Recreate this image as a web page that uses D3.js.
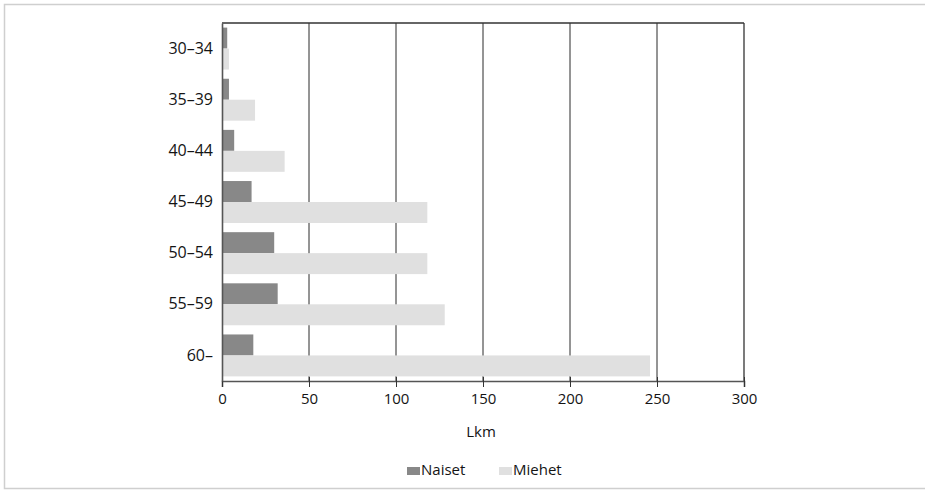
<!DOCTYPE html>
<html><head><meta charset="utf-8">
<script src="https://cdn.jsdelivr.net/npm/d3@7"></script>
<style>body{margin:0;background:#fff;} svg{display:block;} text{font-family:"Open Sans",sans-serif;fill:#141414;}</style>
</head><body>
<svg id="c" width="925" height="492"></svg>
<script>
const categories = ["30–34","35–39","40–44","45–49","50–54","55–59","60–"];
const naiset = [3, 4, 7, 17, 30, 32, 18];
const miehet = [4, 19, 36, 118, 118, 128, 246];
const seriesNames = ["Naiset","Miehet"];
const xTicks = [0, 50, 100, 150, 200, 250, 300];
const xTitle = "Lkm";

const svg = d3.select("#c");
const colors = {Naiset:"#888888", Miehet:"#e0e0e0"};
// outer frame
svg.append("rect").attr("x",4.5).attr("y",4.5).attr("width",930).attr("height",484)
  .attr("fill","none").attr("stroke","#cfcfcf").attr("stroke-width",1.5);

const L=222, R=744, T=23, B=381;
const x = d3.scaleLinear().domain([0,300]).range([L,R]);
const y = d3.scaleBand().domain(categories).range([T,B]).paddingInner(0.18).paddingOuter(0.09);
const sub = d3.scaleBand().domain(seriesNames).range([0,y.bandwidth()]);

// grid
svg.append("g").selectAll("line").data(xTicks.filter(d=>d>0&&d<300)).join("line")
  .attr("x1",d=>x(d)).attr("x2",d=>x(d)).attr("y1",T).attr("y2",B)
  .attr("stroke","#2a2a2a").attr("stroke-width",1);

const rows = categories.map((c,i)=>({c, Naiset:naiset[i], Miehet:miehet[i]}));
const g = svg.append("g");
seriesNames.forEach(s=>{
  g.selectAll("rect."+s).data(rows).join("rect").attr("class",s)
    .attr("x",x(0)).attr("y",d=>y(d.c)+sub(s)).attr("width",d=>x(d[s])-x(0))
    .attr("height",sub.bandwidth()).attr("fill",colors[s]);
});

// frame top/right
svg.append("line").attr("x1",L).attr("x2",R).attr("y1",T).attr("y2",T).attr("stroke","#333").attr("stroke-width",1.3);
svg.append("line").attr("x1",R).attr("x2",R).attr("y1",T).attr("y2",B).attr("stroke","#333").attr("stroke-width",1.3);

// x axis
const xa = svg.append("g").attr("transform",`translate(0,${B})`)
  .call(d3.axisBottom(x).tickValues(xTicks).tickSize(6).tickPadding(6));
xa.select(".domain").attr("stroke","#555").attr("stroke-width",1.6);
xa.selectAll(".tick line").attr("stroke","#333").attr("y1",-4);
xa.selectAll(".tick text").style("font-size","15px").style("font-family","'Open Sans',sans-serif").attr("fill","#141414");

// y axis
const ya = svg.append("g").attr("transform",`translate(${L},0)`)
  .call(d3.axisLeft(y).tickSize(0).tickPadding(9));
ya.select(".domain").attr("stroke","#555").attr("stroke-width",1.6);
ya.selectAll(".tick text").style("font-size","16px").style("font-family","'Open Sans',sans-serif").attr("fill","#141414");

svg.append("text").attr("x",x(150)-2).attr("y",437).attr("text-anchor","middle")
  .style("font-size","15px").text(xTitle);

// legend
const leg = svg.append("g");
const legX = [407, 499];
seriesNames.forEach((s,i)=>{
  leg.append("rect").attr("x",legX[i]).attr("y",467).attr("width",13).attr("height",8).attr("fill",colors[s]);
  leg.append("text").attr("x",legX[i]+14).attr("y",475).style("font-size","15px").text(s);
});
</script>
</body></html>
